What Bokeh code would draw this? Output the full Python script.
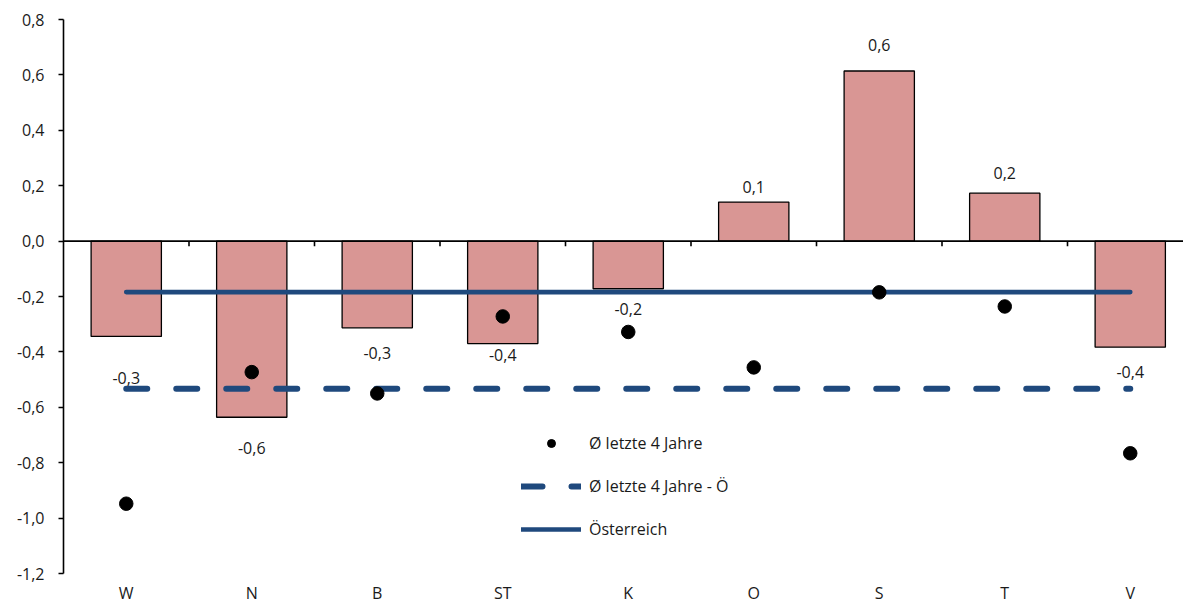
from bokeh.plotting import figure
from bokeh.models import (Range1d, FixedTicker, CustomJSTickFormatter, ColumnDataSource,
                          LabelSet, Legend, LegendItem)
from bokeh.core.properties import value
from bokeh.embed import file_html
from bokeh.resources import INLINE

# Regions and values
regions = ["W", "N", "B", "ST", "K", "O", "S", "T", "V"]
change = [-0.344, -0.636, -0.313, -0.370, -0.172, 0.141, 0.614, 0.173, -0.383]
avg_last4 = [-0.948, -0.473, -0.550, -0.272, -0.328, -0.456, -0.185, -0.236, -0.766]
avg_last4_austria = [-0.533] * len(regions)
austria = [-0.184] * len(regions)
y_ticks = [-1.2, -1.0, -0.8, -0.6, -0.4, -0.2, 0.0, 0.2, 0.4, 0.6, 0.8]

# Layout: vertical pixel shift of each value label from the bar end
label_shift = [-42, -31, -25, -11, -20, 15, 26, 20, -25]

FONT = "Open Sans"
TEXT = "#1a1a1a"
BAR = "#D99694"
BLUE = "#1F497D"

n = len(regions)
xc = [i + 0.5 for i in range(n)]
labels = [f"{v:.1f}".replace(".", ",") for v in change]

W, H = 1183, 613
LEFT, TOP, BOTTOM = 63, 19, 40
cat_px = 125.5
x_end = (W - LEFT) / cat_px
y_min, y_max = y_ticks[0], y_ticks[-1]

p = figure(width=W, height=H, output_backend="svg", toolbar_location=None,
           x_range=Range1d(0, x_end), y_range=Range1d(y_min, y_max),
           min_border_left=LEFT, min_border_right=0, min_border_top=TOP,
           min_border_bottom=BOTTOM)
p.outline_line_color = None
p.grid.visible = False
p.background_fill_color = "white"
p.border_fill_color = "white"

# y axis
p.yaxis.ticker = FixedTicker(ticks=y_ticks)
p.yaxis.formatter = CustomJSTickFormatter(code="return tick.toFixed(1).replace('.', ',');")
p.yaxis.axis_line_color = "black"
p.yaxis.axis_line_width = 1.6
p.yaxis.major_tick_line_color = "black"
p.yaxis.major_tick_line_width = 1.6
p.yaxis.major_tick_in = 0
p.yaxis.major_tick_out = 5
p.yaxis.minor_tick_line_color = None
p.yaxis.major_label_standoff = 14
p.yaxis.major_label_text_font = FONT
p.yaxis.major_label_text_font_size = "16px"
p.yaxis.major_label_text_color = TEXT

# category names under the plot area
p.xaxis.ticker = FixedTicker(ticks=xc)
p.xaxis.major_label_overrides = {x: r for x, r in zip(xc, regions)}
p.xaxis.axis_line_color = None
p.xaxis.major_tick_line_color = None
p.xaxis.minor_tick_line_color = None
p.xaxis.major_tick_out = 0
p.xaxis.major_tick_in = 0
p.xaxis.major_label_standoff = 8
p.xaxis.major_label_text_font = FONT
p.xaxis.major_label_text_font_size = "16px"
p.xaxis.major_label_text_color = TEXT

src = ColumnDataSource(dict(x=xc, region=regions, change=change, label=labels,
                            shift=label_shift, avg=avg_last4,
                            avg_at=avg_last4_austria, at=austria))

p.vbar(x="x", top="change", bottom=0, width=0.56, source=src,
       fill_color=BAR, line_color="black", line_width=1.3)

# zero line with category separators
p.segment(x0=0, y0=0, x1=x_end, y1=0, line_color="black", line_width=1.6)
sep = list(range(1, n + 1))
p.segment(x0=sep, y0=[0] * n, x1=sep, y1=[-0.019] * n, line_color="black", line_width=1.6)

r_dash = p.line(x="x", y="avg_at", source=src, line_color=BLUE, line_width=6,
                line_dash="21 29", line_cap="round")
r_solid = p.line(x="x", y="at", source=src, line_color=BLUE, line_width=4.7,
                 line_cap="round")
r_dot = p.scatter(x="x", y="avg", source=src, size=13.5, marker="circle",
                  fill_color="black", line_color="black")

# value labels
p.add_layout(LabelSet(x="x", y="change", text="label", y_offset="shift", source=src,
                      text_align="center", text_baseline="middle",
                      text_font=value(FONT), text_font_size="16px", text_color=TEXT))

legend = Legend(items=[LegendItem(label="Ø letzte 4 Jahre", renderers=[r_dot]),
                       LegendItem(label="Ø letzte 4 Jahre - Ö", renderers=[r_dash]),
                       LegendItem(label="Österreich", renderers=[r_solid])],
                location=(458, 33), orientation="vertical",
                glyph_width=60, glyph_height=20, label_height=20,
                label_standoff=8, spacing=21, padding=0, margin=0,
                border_line_color=None, background_fill_alpha=0,
                label_text_font=FONT, label_text_font_size="16px",
                label_text_color=TEXT)
p.add_layout(legend)

open("out.html", "w").write(file_html(p, INLINE))
